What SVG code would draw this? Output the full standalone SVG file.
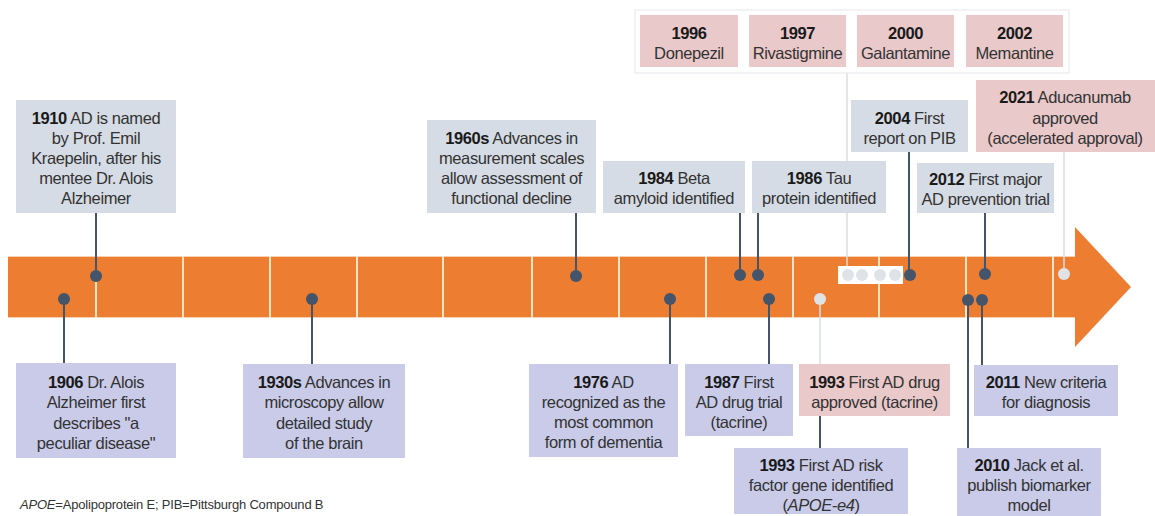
<svg xmlns="http://www.w3.org/2000/svg" width="1155" height="516" viewBox="0 0 1155 516">
<style>
text{font-family:"Liberation Sans",Arial,sans-serif;font-size:16.5px;letter-spacing:-0.4px;fill:#333;text-anchor:middle}
.b{font-weight:bold;fill:#1a1a1a}
.gb{fill:#d6dce5}
.pk{fill:#e9c9ca}
.lv{fill:#c9cbe9}
.dk{stroke:#44546a;stroke-width:2;fill:none}
.lt{stroke:#d9dde3;stroke-width:1.5;fill:none}
.dd{fill:#44546a}
.ld{fill:#dfe3e8}
.div{stroke:#fbe3c4;stroke-width:2}
.fn{font-size:13px;letter-spacing:-0.2px;text-anchor:start;fill:#333}
</style>
<rect width="1155" height="516" fill="#fff"/>
<g id="timeline">
<polygon points="8,256 1075,256 1075,227 1131,287 1075,347 1075,318 8,318" fill="#ed7d31"/>
<line x1="8" y1="256.5" x2="1075" y2="256.5" stroke="#f6d3b0" stroke-width="1"/>
<line x1="8" y1="317.5" x2="1075" y2="317.5" stroke="#f6d3b0" stroke-width="1"/>
<g class="div">
<line x1="96" y1="256" x2="96" y2="318"/><line x1="183" y1="256" x2="183" y2="318"/><line x1="270" y1="256" x2="270" y2="318"/><line x1="357" y1="256" x2="357" y2="318"/><line x1="443" y1="256" x2="443" y2="318"/><line x1="532" y1="256" x2="532" y2="318"/><line x1="619" y1="256" x2="619" y2="318"/><line x1="706" y1="256" x2="706" y2="318"/><line x1="793" y1="256" x2="793" y2="318"/><line x1="879" y1="256" x2="879" y2="318"/><line x1="966" y1="256" x2="966" y2="318"/><line x1="1053" y1="256" x2="1053" y2="318"/>
</g>
</g>
<g id="connectors">
<line class="dk" x1="96" y1="213" x2="96" y2="276"/>
<line class="dk" x1="64" y1="299" x2="64" y2="363"/>
<line class="dk" x1="312" y1="299" x2="312" y2="364"/>
<line class="dk" x1="576" y1="213" x2="576" y2="276"/>
<line class="dk" x1="670" y1="299" x2="670" y2="364"/>
<line class="dk" x1="740" y1="213" x2="740" y2="275"/>
<line class="dk" x1="758" y1="213" x2="758" y2="275"/>
<line class="dk" x1="769" y1="299" x2="769" y2="364"/>
<line class="lt" x1="820" y1="299" x2="820" y2="364"/>
<line class="dk" x1="820" y1="416" x2="820" y2="448"/>
<line class="lt" x1="847" y1="73" x2="847" y2="266"/>
<line class="dk" x1="909" y1="152" x2="909" y2="275"/>
<line class="dk" x1="968" y1="300" x2="968" y2="448"/>
<line class="dk" x1="982" y1="300" x2="982" y2="365"/>
<line class="dk" x1="985" y1="213" x2="985" y2="274"/>
<line class="lt" x1="1064" y1="152" x2="1064" y2="274"/>
</g>
<g id="dots">
<circle class="dd" cx="96" cy="276" r="6"/>
<circle class="dd" cx="64" cy="299" r="6"/>
<circle class="dd" cx="312" cy="299" r="6"/>
<circle class="dd" cx="576" cy="276" r="6"/>
<circle class="dd" cx="670" cy="299" r="6"/>
<circle class="dd" cx="740" cy="275" r="6"/>
<circle class="dd" cx="758" cy="275" r="6"/>
<circle class="dd" cx="769" cy="299" r="6"/>
<circle class="ld" cx="820" cy="299" r="6"/>
<rect x="838" y="266" width="65" height="18" fill="#fff"/>
<circle class="ld" cx="848" cy="275" r="6"/>
<circle class="ld" cx="862" cy="275" r="6"/>
<circle class="ld" cx="880" cy="275" r="6"/>
<circle class="ld" cx="895" cy="275" r="6"/>
<circle class="dd" cx="910" cy="275" r="6"/>
<circle class="dd" cx="968" cy="300" r="6"/>
<circle class="dd" cx="982" cy="300" r="6"/>
<circle class="dd" cx="985" cy="274" r="6"/>
<circle class="ld" cx="1064" cy="274" r="6"/>
</g>
<g id="n1910"><rect class="gb" x="16" y="100" width="160" height="113"/>
<text x="96" y="124"><tspan class="b">1910</tspan> AD is named</text><text x="96" y="144">by Prof. Emil</text><text x="96" y="164">Kraepelin, after his</text><text x="96" y="184">mentee Dr. Alois</text><text x="96" y="204">Alzheimer</text></g>
<g id="n1960s"><rect class="gb" x="427" y="120" width="169" height="93"/>
<text x="511.5" y="144"><tspan class="b">1960s</tspan> Advances in</text><text x="511.5" y="164">measurement scales</text><text x="511.5" y="184">allow assessment of</text><text x="511.5" y="204">functional decline</text></g>
<g id="n1984"><rect class="gb" x="603" y="161" width="142" height="52"/>
<text x="674" y="184"><tspan class="b">1984</tspan> Beta</text><text x="674" y="204">amyloid identified</text></g>
<g id="n1986"><rect class="gb" x="752" y="161" width="134" height="52"/>
<text x="819" y="184"><tspan class="b">1986</tspan> Tau</text><text x="819" y="204">protein identified</text></g>
<g id="n2004"><rect class="gb" x="851" y="100" width="117" height="52"/>
<text x="909.5" y="124"><tspan class="b">2004</tspan> First</text><text x="909.5" y="144">report on PIB</text></g>
<g id="n2012"><rect class="gb" x="917" y="163" width="137" height="50"/>
<text x="985.5" y="185"><tspan class="b">2012</tspan> First major</text><text x="985.5" y="205">AD prevention trial</text></g>
<g id="n2021"><rect class="pk" x="976" y="80" width="179" height="72"/>
<text x="1065" y="103"><tspan class="b">2021</tspan> Aducanumab</text><text x="1065" y="124">approved</text><text x="1065" y="144">(accelerated approval)</text></g>
<g id="drugs"><rect x="635" y="10" width="434" height="63" fill="#fff" stroke="#e3e7ec" stroke-width="1"/>
<g id="n1996"><rect class="pk" x="640" y="15" width="98" height="52"/><text class="b" x="689" y="39">1996</text><text x="689" y="59">Donepezil</text></g>
<g id="n1997"><rect class="pk" x="749" y="15" width="97" height="52"/><text class="b" x="797.5" y="39">1997</text><text x="797.5" y="59">Rivastigmine</text></g>
<g id="n2000"><rect class="pk" x="857" y="15" width="97" height="52"/><text class="b" x="905.5" y="39">2000</text><text x="905.5" y="59">Galantamine</text></g>
<g id="n2002"><rect class="pk" x="966" y="15" width="97" height="52"/><text class="b" x="1014.5" y="39">2002</text><text x="1014.5" y="59">Memantine</text></g>
</g>
<g id="n1906"><rect class="lv" x="16" y="363" width="160" height="95"/>
<text x="96" y="388"><tspan class="b">1906</tspan> Dr. Alois</text><text x="96" y="408">Alzheimer first</text><text x="96" y="429">describes "a</text><text x="96" y="449">peculiar disease"</text></g>
<g id="n1930s"><rect class="lv" x="243" y="364" width="162" height="94"/>
<text x="324" y="388"><tspan class="b">1930s</tspan> Advances in</text><text x="324" y="408">microscopy allow</text><text x="324" y="429">detailed study</text><text x="324" y="449">of the brain</text></g>
<g id="n1976"><rect class="lv" x="529" y="364" width="149" height="93"/>
<text x="603.5" y="388"><tspan class="b">1976</tspan> AD</text><text x="603.5" y="408">recognized as the</text><text x="603.5" y="428">most common</text><text x="603.5" y="448">form of dementia</text></g>
<g id="n1987"><rect class="lv" x="685" y="364" width="108" height="72"/>
<text x="739" y="388"><tspan class="b">1987</tspan> First</text><text x="739" y="408">AD drug trial</text><text x="739" y="428">(tacrine)</text></g>
<g id="n1993a"><rect class="pk" x="799" y="364" width="151" height="52"/>
<text x="874.5" y="388"><tspan class="b">1993</tspan> First AD drug</text><text x="874.5" y="408">approved (tacrine)</text></g>
<g id="n1993b"><rect class="lv" x="734" y="448" width="174" height="66"/>
<text x="821" y="471"><tspan class="b">1993</tspan> First AD risk</text><text x="821" y="491">factor gene identified</text><text x="821" y="511">(<tspan font-style="italic">APOE-e4</tspan>)</text></g>
<g id="n2011"><rect class="lv" x="974" y="365" width="144" height="51"/>
<text x="1046" y="388"><tspan class="b">2011</tspan> New criteria</text><text x="1046" y="408">for diagnosis</text></g>
<g id="n2010"><rect class="lv" x="957" y="448" width="144" height="68"/>
<text x="1029" y="471"><tspan class="b">2010</tspan> Jack et al.</text><text x="1029" y="491">publish biomarker</text><text x="1029" y="511">model</text></g>
<g id="footnote"><text class="fn" x="20" y="509"><tspan font-style="italic">APOE</tspan>=Apolipoprotein E; PIB=Pittsburgh Compound B</text></g>
</svg>
